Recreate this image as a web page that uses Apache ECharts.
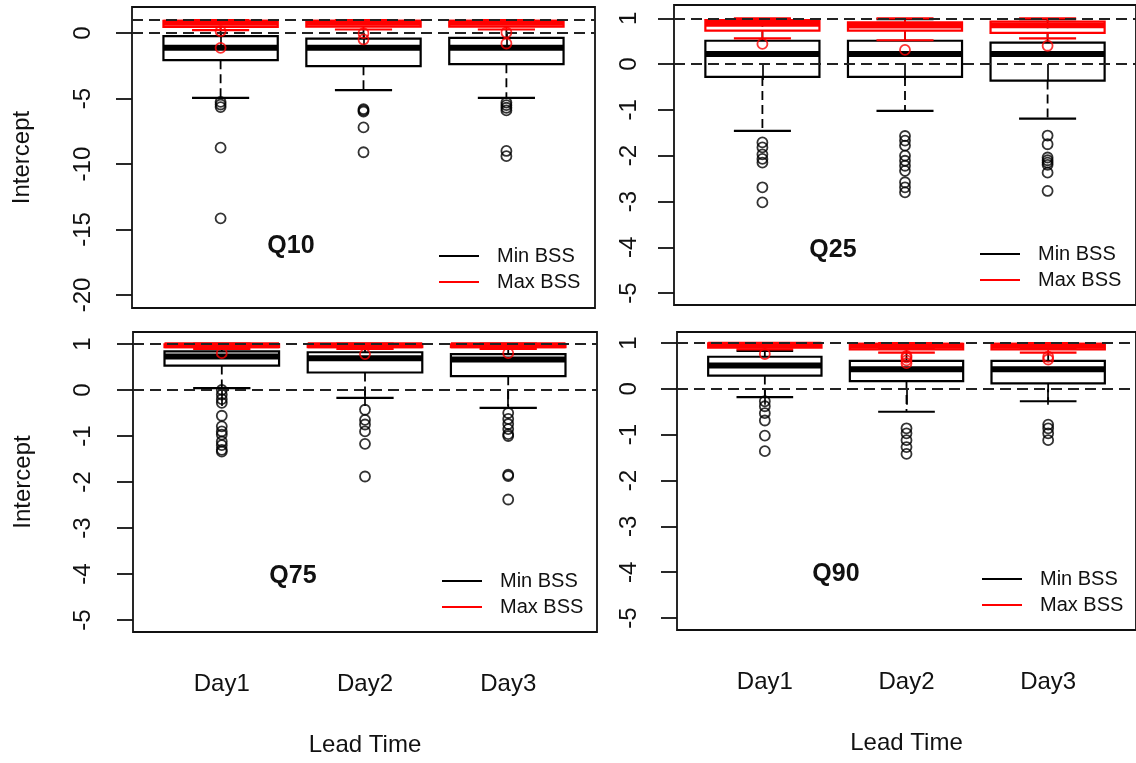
<!DOCTYPE html>
<html>
<head>
<meta charset="utf-8">
<script src="https://cdn.jsdelivr.net/npm/echarts@6/dist/echarts.min.js"></script>
<style>
html,body{margin:0;padding:0;background:#fff;}
#c{width:1136px;height:763px;}
</style>
</head>
<body>
<div id="c"></div>
<script>
// ---------------- data ----------------
const days = ['Day1', 'Day2', 'Day3'];
const panelNames = ['Q10', 'Q25', 'Q75', 'Q90'];
const seriesNames = ['Min BSS', 'Max BSS'];
const q10Ticks = [-20, -15, -10, -5, 0];
const qTicks = [-5, -4, -3, -2, -1, 0, 1];
const refLines = [0, 1];

// box stats: [lower whisker, Q1, median, Q3, upper whisker] per day
const q10MinStats = [[-4.94, -2.06, -1.12, -0.23, 0.9], [-4.35, -2.52, -1.12, -0.41, 0.8], [-4.94, -2.37, -1.12, -0.36, 0.8]];
const q10MinOut = [[-5.25, -5.45, -5.65, -8.75, -14.15], [-5.8, -5.9, -6.0, -7.2, -9.1], [-5.3, -5.5, -5.7, -5.9, -9.0, -9.4]];
const q10MaxStats = [[0.23, 0.48, 0.8, 0.94, 1.0], [0.28, 0.5, 0.8, 0.94, 1.0], [0.28, 0.5, 0.8, 0.94, 1.0]];
const q10MaxOut = [[0.15, -1.12], [0.0, -0.48], [0.05, -0.79]];

const q25MinStats = [[-1.46, -0.28, 0.22, 0.51, 0.98], [-1.02, -0.28, 0.22, 0.51, 0.98], [-1.19, -0.36, 0.22, 0.47, 0.98]];
const q25MinOut = [[-1.71, -1.82, -1.97, -2.07, -2.15, -2.69, -3.02], [-1.57, -1.67, -1.78, -2.0, -2.11, -2.22, -2.33, -2.58, -2.69, -2.8], [-1.56, -1.75, -2.04, -2.1, -2.15, -2.2, -2.37, -2.77]];
const q25MaxStats = [[0.56, 0.73, 0.88, 0.96, 1.0], [0.52, 0.73, 0.84, 0.91, 1.0], [0.56, 0.68, 0.85, 0.93, 1.0]];
const q25MaxOut = [[0.44], [0.31], [0.4]];

const q75MinStats = [[0.04, 0.53, 0.73, 0.84, 1.0], [-0.17, 0.38, 0.69, 0.82, 1.0], [-0.39, 0.30, 0.66, 0.78, 1.0]];
const q75MinOut = [[0.0, -0.1, -0.2, -0.28, -0.56, -0.79, -0.9, -0.97, -1.12, -1.2, -1.3, -1.34], [-0.43, -0.65, -0.75, -0.9, -1.17, -1.88], [-0.5, -0.63, -0.74, -0.85, -0.96, -1.0, -1.84, -1.87, -2.38]];
const q75MaxStats = [[0.89, 0.93, 0.97, 0.99, 1.0], [0.89, 0.93, 0.97, 0.99, 1.0], [0.89, 0.93, 0.97, 0.99, 1.0]];
const q75MaxOut = [[0.8], [0.78], [0.8]];

const q90MinStats = [[-0.18, 0.29, 0.51, 0.7, 0.83], [-0.5, 0.17, 0.43, 0.61, 0.9], [-0.27, 0.12, 0.43, 0.61, 0.9]];
const q90MinOut = [[-0.27, -0.38, -0.53, -0.69, -1.02, -1.36], [-0.86, -0.97, -1.12, -1.27, -1.42], [-0.78, -0.86, -0.97, -1.12]];
const q90MaxStats = [[0.86, 0.9, 0.96, 0.99, 1.0], [0.79, 0.86, 0.94, 0.98, 1.0], [0.79, 0.86, 0.94, 0.98, 1.0]];
const q90MaxOut = [[0.76], [0.72, 0.68, 0.62, 0.56], [0.7, 0.64]];

// ---------------- build ----------------
const FONT = 'Liberation Sans, Arial, sans-serif';
const panels = [
  { min: [q10MinStats, q10MinOut], max: [q10MaxStats, q10MaxOut], ticks: q10Ticks, ymin: -21, ymax: 2,
    grid: { left: 132, top: 7, width: 463, height: 301 }, labMargin: 37, showX: false, showYName: true,
    title: [291, 246], legend: [439, 246] },
  { min: [q25MinStats, q25MinOut], max: [q25MaxStats, q25MaxOut], ticks: qTicks, ymin: -5.26, ymax: 1.29,
    grid: { left: 674, top: 5, width: 463, height: 300 }, labMargin: 33, showX: false, showYName: false,
    title: [833, 250], legend: [980, 244] },
  { min: [q75MinStats, q75MinOut], max: [q75MaxStats, q75MaxOut], ticks: qTicks, ymin: -5.26, ymax: 1.26,
    grid: { left: 133, top: 332, width: 464, height: 300 }, labMargin: 38, showX: true, showYName: true,
    title: [293, 576], legend: [442, 571] },
  { min: [q90MinStats, q90MinOut], max: [q90MaxStats, q90MaxOut], ticks: qTicks, ymin: -5.26, ymax: 1.24,
    grid: { left: 677, top: 332, width: 461, height: 298 }, labMargin: 36, showX: true, showYName: false,
    title: [836, 574], legend: [982, 569] }
];

function renderBox(params, api) {
  const x = api.value(0);
  const low = api.value(1), q1 = api.value(2), med = api.value(3), q3 = api.value(4), high = api.value(5);
  const c = v => api.coord([x, v]);
  const halfW = api.size([0.8, 0])[0] / 2;
  const capHalf = api.size([0.4, 0])[0] / 2;
  const pLow = c(low), pQ1 = c(q1), pMed = c(med), pQ3 = c(q3), pHigh = c(high);
  const cx = pMed[0];
  const color = api.visual('color');
  const lw = 2.2;
  const dash = { stroke: color, lineWidth: 1.8, lineDash: [9, 5], fill: null };
  const solid = { stroke: color, lineWidth: lw, fill: null };
  return {
    type: 'group',
    children: [
      { type: 'line', shape: { x1: cx, y1: pQ3[1], x2: cx, y2: pHigh[1] }, style: dash },
      { type: 'line', shape: { x1: cx, y1: pQ1[1], x2: cx, y2: pLow[1] }, style: dash },
      { type: 'line', shape: { x1: cx - capHalf, y1: pHigh[1], x2: cx + capHalf, y2: pHigh[1] }, style: solid },
      { type: 'line', shape: { x1: cx - capHalf, y1: pLow[1], x2: cx + capHalf, y2: pLow[1] }, style: solid },
      { type: 'rect', shape: { x: cx - halfW, y: pQ3[1], width: 2 * halfW, height: pQ1[1] - pQ3[1] }, style: solid },
      { type: 'line', shape: { x1: cx - halfW, y1: pMed[1], x2: cx + halfW, y2: pMed[1] }, style: { stroke: color, lineWidth: 6 } }
    ]
  };
}

const grids = [], xAxes = [], yAxes = [], series = [], legends = [], graphics = [];
const colors = ['#000000', '#ff0000'];

panels.forEach((p, i) => {
  grids.push(Object.assign({ show: true, borderColor: '#111', borderWidth: 1.8, backgroundColor: 'transparent' }, p.grid));
  xAxes.push({
    type: 'value', gridIndex: i, min: 0.38, max: 3.62,
    axisLine: { show: false }, splitLine: { show: false },
    axisTick: { show: true, inside: false, length: 16, customValues: [1, 2, 3], lineStyle: { color: '#111', width: 1.8 } },
    axisLabel: { show: p.showX, customValues: [1, 2, 3], formatter: v => days[Math.round(v) - 1], margin: 40,
      fontSize: 24, fontFamily: FONT, color: '#111' },
    name: p.showX ? 'Lead Time' : '', nameLocation: 'middle', nameGap: 101,
    nameTextStyle: { fontSize: 24, fontFamily: FONT, color: '#111' }
  });
  yAxes.push({
    type: 'value', gridIndex: i, min: p.ymin, max: p.ymax,
    axisLine: { show: false }, splitLine: { show: false },
    axisTick: { show: true, length: 16, customValues: p.ticks, lineStyle: { color: '#111', width: 1.8 } },
    axisLabel: { customValues: p.ticks, rotate: 90, margin: p.labMargin, fontSize: 24, fontFamily: FONT, color: '#111' },
    name: p.showYName ? 'Intercept' : '', nameLocation: 'middle', nameRotate: 90, nameGap: 98,
    nameTextStyle: { fontSize: 24, fontFamily: FONT, color: '#111' }
  });
  [p.min, p.max].forEach((grp, k) => {
    const stats = grp[0], outs = grp[1];
    series.push({
      name: seriesNames[k], type: 'custom', xAxisIndex: i, yAxisIndex: i,
      itemStyle: { color: colors[k] }, renderItem: renderBox, z: 2 + k * 2,
      data: stats.map((s, d) => [d + 1].concat(s)), silent: true
    });
    series.push({
      name: seriesNames[k] + ' outliers', type: 'scatter', xAxisIndex: i, yAxisIndex: i,
      symbol: 'circle', symbolSize: 10, z: 3 + k * 2, silent: true,
      itemStyle: { color: 'transparent', borderColor: colors[k], borderWidth: 1.8 },
      data: outs.flatMap((arr, d) => arr.map(v => [d + 1, v]))
    });
  });
  series.push({
    name: 'ref', type: 'scatter', xAxisIndex: i, yAxisIndex: i, data: [], z: 10, silent: true,
    markLine: {
      silent: true, symbol: ['none', 'none'], label: { show: false },
      lineStyle: { color: '#222', width: 2, type: [11, 6] },
      data: refLines.map(v => ({ yAxis: v }))
    }
  });
  legends.push({
    left: p.legend[0], top: p.legend[1], orient: 'vertical', padding: 0,
    itemWidth: 40, itemHeight: 2, itemGap: 6, selectedMode: false, icon: 'rect',
    textStyle: { fontSize: 20, fontFamily: FONT, color: '#111', lineHeight: 20, padding: [0, 0, 0, 13] },
    data: seriesNames.map((n, k) => ({ name: n, itemStyle: { color: colors[k] } }))
  });
  graphics.push({
    type: 'text', x: p.title[0], y: p.title[1], z: 100,
    style: { text: panelNames[i], fontSize: 25, fontWeight: 'bold', fontFamily: FONT, fill: '#111', align: 'center', verticalAlign: 'middle' }
  });
});

const chart = echarts.init(document.getElementById('c'), null, { renderer: 'canvas' });
chart.setOption({
  animation: false,
  backgroundColor: '#fff',
  grid: grids, xAxis: xAxes, yAxis: yAxes, series: series, legend: legends, graphic: graphics
});
</script>
</body>
</html>
